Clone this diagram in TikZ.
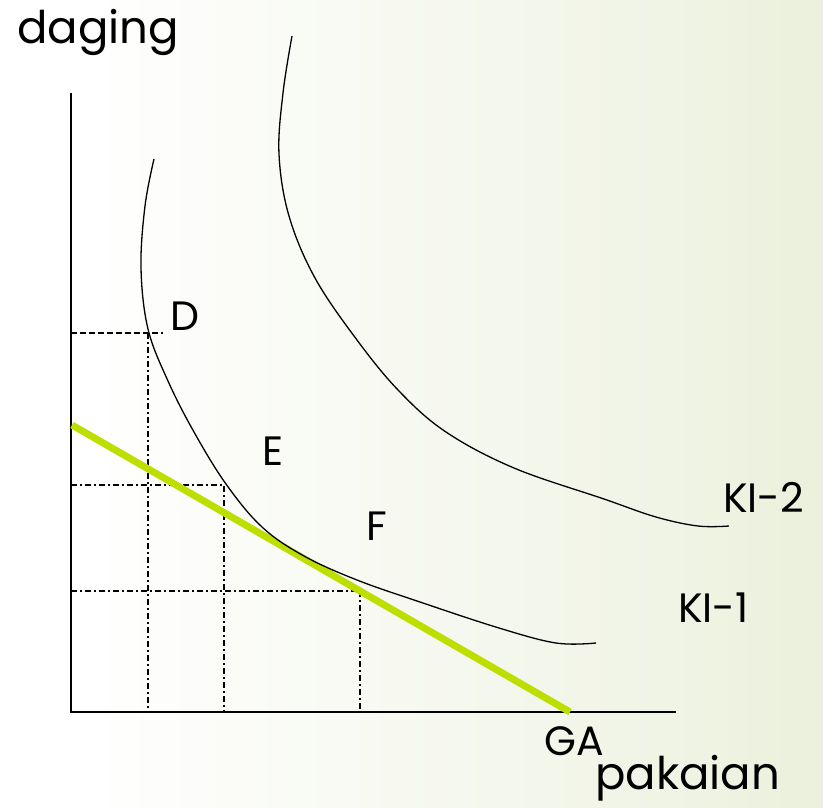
\documentclass[tikz,border=0pt]{standalone}
\usepackage{fontspec}
\setmainfont{Poppins}
\definecolor{bgmid}{RGB}{240,244,229}
\definecolor{bgright}{RGB}{223,232,200}
\definecolor{budget}{RGB}{190,222,0}
\pgfdeclarehorizontalshading{bgshade}{100bp}{color(0bp)=(white); color(30bp)=(white); color(65bp)=(bgmid); color(100bp)=(bgright)}
\begin{document}
\begin{tikzpicture}[x=1pt,y=-1pt,
  lbl/.style={inner sep=0pt,anchor=base west,font=\fontsize{41}{48}\selectfont},
  word/.style={inner sep=0pt,anchor=base west,font=\fontsize{45}{54}\selectfont},
  axis/.style={line width=1.6pt,black},
  curve/.style={line width=1.3pt,black},
  dashln/.style={line width=1.8pt,dash pattern=on 6pt off 3pt},
  dashdot/.style={line width=1.8pt,dash pattern=on 6pt off 3pt on 2pt off 3pt}]
\shade[shading=bgshade] (0,0) rectangle (823,807);
\useasboundingbox (0,0) rectangle (823,807);
% axes
\coordinate (O) at (71,712);
\coordinate (Ytop) at (71,93);
\coordinate (Xend) at (676,712);
\draw[axis] (Ytop) -- (O) -- (Xend);
% guide lines
\coordinate (D) at (148,333);
\coordinate (E) at (224,485);
\coordinate (F) at (360,591);
\draw[dashln] (71,333) -- (163,333);
\draw[dashdot] (D) -- (148,712);
\draw[dashdot] (71,485) -- (E) -- (224,712);
\draw[dashdot] (71,591) -- (F);
\draw[dashdot] (F) -- (360,712);
% budget line
\coordinate (B1) at (72,425);
\coordinate (B2) at (570,712);
\draw[budget,line width=7pt] (B1) -- (B2);
% indifference curves
\draw[curve] plot[smooth,tension=0.6] coordinates {(154,159) (145,206) (141,268) (148,329) (168,381) (194,432) (226,484) (262,527) (304,556) (357,580) (420,602) (499,628) (556,643) (596,643)};
\draw[curve] plot[smooth,tension=0.6] coordinates {(292,36) (283,93) (279,154) (289,216) (315,278) (357,340) (399,391) (446,432) (514,468) (604,499) (656,517) (698,526) (729,526)};
% labels
\node[word] (daging) at (17,43) {daging};
\node[lbl] (lD) at (170,330) {D};
\node[lbl] (lE) at (262,465) {E};
\node[lbl] (lF) at (366,540) {F};
\node[lbl] (KI2) at (723,512) {KI-2};
\node[lbl] (KI1) at (678,622) {KI-1};
\node[lbl] (GA) at (544,755) {GA};
\node[word] (pak) at (595,789) {pakaian};
\end{tikzpicture}
\end{document}
